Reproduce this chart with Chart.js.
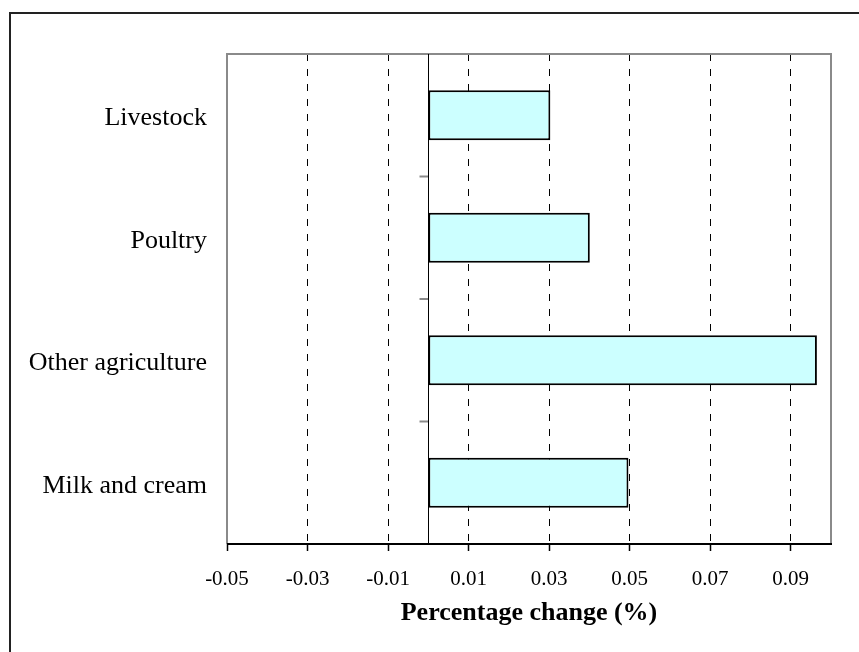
<!DOCTYPE html>
<html>
<head>
<meta charset="utf-8">
<script src="https://cdn.jsdelivr.net/npm/chart.js@4/dist/chart.umd.min.js"></script>
<style>
  body { margin: 0; background: #fff; }
  #wrap { width: 859px; height: 652px; }
</style>
</head>
<body>
<div id="wrap"><canvas id="chart" width="859" height="652"></canvas></div>
<script>
// data set
var categories = ['Livestock', 'Poultry', 'Other agriculture', 'Milk and cream'];
var change = [0.0303, 0.0401, 0.0965, 0.0497];
var x_ticks = [-0.05, -0.03, -0.01, 0.01, 0.03, 0.05, 0.07, 0.09];
var x_min = -0.05;
var x_max = 0.10;

const serif = '"Liberation Serif", "Times New Roman", serif';

// frame, zero line and category tick marks
const decor = {
  id: 'decor',
  beforeDraw(chart) {
    const ctx = chart.ctx;
    ctx.save();
    ctx.strokeStyle = '#222';
    ctx.lineWidth = 2;
    ctx.beginPath();
    ctx.moveTo(10, chart.height);
    ctx.lineTo(10, 13);
    ctx.lineTo(chart.width, 13);
    ctx.stroke();
    ctx.restore();
  },
  afterDatasetsDraw(chart) {
    const ctx = chart.ctx;
    const a = chart.chartArea;
    const x = chart.scales.x;
    const y = chart.scales.y;
    const x0 = Math.round(x.getPixelForValue(0)) + 0.5;
    ctx.save();
    // plot area border
    ctx.strokeStyle = '#8a8a8a';
    ctx.lineWidth = 2;
    ctx.beginPath();
    ctx.moveTo(a.left, a.bottom);
    ctx.lineTo(a.left, a.top);
    ctx.lineTo(a.right, a.top);
    ctx.lineTo(a.right, a.bottom);
    ctx.stroke();
    // category ticks on the zero axis
    for (let i = 1; i < categories.length; i++) {
      const py = (y.getPixelForValue(i - 1) + y.getPixelForValue(i)) / 2;
      ctx.beginPath();
      ctx.moveTo(x0 - 9, py);
      ctx.lineTo(x0, py);
      ctx.stroke();
    }
    // zero line
    ctx.strokeStyle = '#000';
    ctx.lineWidth = 1;
    ctx.beginPath();
    ctx.moveTo(x0, a.top);
    ctx.lineTo(x0, a.bottom);
    ctx.stroke();
    // bottom axis line
    ctx.lineWidth = 2;
    ctx.beginPath();
    ctx.moveTo(a.left, a.bottom);
    ctx.lineTo(a.right + 1, a.bottom);
    ctx.stroke();
    ctx.restore();
  }
};

new Chart('chart', {
  type: 'bar',
  data: {
    labels: categories,
    datasets: [{
      label: 'Percentage change',
      data: change,
      backgroundColor: '#CCFFFF',
      borderColor: '#000',
      borderWidth: 2,
      borderSkipped: false,
      barPercentage: 0.41,
      categoryPercentage: 1
    }]
  },
  options: {
    indexAxis: 'y',
    responsive: false,
    animation: false,
    layout: {
      padding: { top: 54, right: 28, left: 0, bottom: 0 }
    },
    plugins: {
      legend: { display: false },
      tooltip: { enabled: false }
    },
    scales: {
      x: {
        type: 'linear',
        min: x_min,
        max: x_max,
        afterBuildTicks(scale) {
          scale.ticks = x_ticks.map(v => ({ value: v }));
        },
        afterFit(scale) {
          scale.height = 108;
        },
        grid: {
          color: ctx => (ctx.tick && ctx.tick.value === x_min) ? 'rgba(0,0,0,0)' : '#000',
          lineWidth: 1,
          tickColor: '#000',
          tickLength: 7,
          tickWidth: 1.5,
          tickBorderDash: []
        },
        border: { display: false, dash: [7, 8] },
        ticks: {
          color: '#000',
          padding: 16,
          maxRotation: 0,
          font: { family: serif, size: 21 },
          callback: v => v.toFixed(2)
        },
        title: {
          display: true,
          text: 'Percentage change (%)',
          color: '#000',
          padding: 23,
          font: { family: serif, size: 26, weight: 'bold' }
        }
      },
      y: {
        afterFit(scale) {
          scale.width = 227;
        },
        grid: { display: false },
        border: { display: false },
        ticks: {
          color: '#000',
          padding: 12,
          labelOffset: 3,
          font: { family: serif, size: 26 }
        }
      }
    }
  },
  plugins: [decor]
});
</script>
</body>
</html>
